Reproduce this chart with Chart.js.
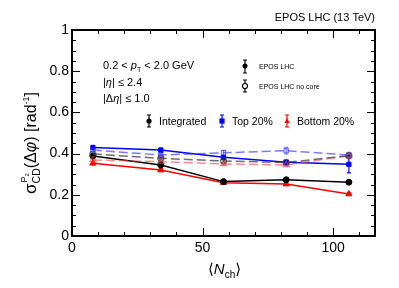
<!DOCTYPE html>
<html>
<head>
<meta charset="utf-8">
<script src="https://cdn.jsdelivr.net/npm/chart.js@4.4.1/dist/chart.umd.min.js"></script>
<style>
body { margin: 0; background: #fff; }
</style>
</head>
<body>
<canvas id="c" width="399" height="288"></canvas>
<script>
// <Nch> bins
var nch = [8, 34, 58, 82, 106];

// EPOS LHC
var intEpos = [0.388, 0.345, 0.264, 0.273, 0.261];
var topEpos = [0.430, 0.417, 0.382, 0.358, 0.348];
var botEpos = [0.353, 0.320, 0.259, 0.252, 0.204];
var intEposErr = [0.006, 0.006, 0.005, 0.005, 0.005];
var topEposErr = [0.007, 0.010, 0.008, 0.008, 0.042];
var botEposErr = [0.007, 0.007, 0.005, 0.006, 0.005];

// EPOS LHC no core
var intNoCore = [0.398, 0.377, 0.364, 0.357, 0.390];
var topNoCore = [0.417, 0.393, 0.404, 0.414, 0.393];
var botNoCore = [0.369, 0.361, 0.350, 0.345, 0.390];
var intNoCoreErr = [0.005, 0.005, 0.005, 0.005, 0.005];
var topNoCoreErr = [0.006, 0.006, 0.012, 0.016, 0.008];
var botNoCoreErr = [0.006, 0.006, 0.006, 0.006, 0.006];

var yTicks = [0, 0.2, 0.4, 0.6, 0.8, 1];
var xTicks = [0, 50, 100];

var FONT = '"Liberation Sans", Arial, "DejaVu Sans", sans-serif';

function pts(ys) {
  return nch.map(function (x, i) { return { x: x, y: ys[i] }; });
}

function ds(label, ys, errs, color, style, dashed) {
  return {
    label: label,
    data: pts(ys),
    errs: errs,
    borderColor: color,
    backgroundColor: color,
    borderWidth: 1.5,
    borderDash: dashed ? [9, 4] : [],
    pointStyle: style,
    pointRadius: style == 'triangle' ? 3.6 : 3,
    pointBorderWidth: dashed ? 1.2 : 1,
    pointBorderColor: color,
    pointBackgroundColor: dashed ? 'rgba(255,255,255,0)' : color,
    showLine: true,
    tension: 0
  };
}

var datasets = [
  ds('int no core', intNoCore, intNoCoreErr, 'rgba(60,60,60,0.75)', 'circle', true),
  ds('bot no core', botNoCore, botNoCoreErr, 'rgba(255,60,60,0.6)', 'triangle', true),
  ds('top no core', topNoCore, topNoCoreErr, 'rgba(50,50,255,0.65)', 'rect', true),
  ds('Integrated', intEpos, intEposErr, '#000', 'circle', false),
  ds('Bottom 20%', botEpos, botEposErr, '#ff0000', 'triangle', false),
  ds('Top 20%', topEpos, topEposErr, '#0000ff', 'rect', false)
];

function rich(ctx, x, y, parts) {
  var cx = x;
  parts.forEach(function (p) {
    ctx.font = (p.it ? 'italic ' : '') + p.s + 'px ' + FONT;
    ctx.fillText(p.t, cx, y + (p.dy || 0));
    cx += ctx.measureText(p.t).width;
  });
  return cx - x;
}
function richWidth(ctx, parts) {
  var w = 0;
  parts.forEach(function (p) {
    ctx.font = (p.it ? 'italic ' : '') + p.s + 'px ' + FONT;
    w += ctx.measureText(p.t).width;
  });
  return w;
}

function marker(ctx, x, y, style, color, open, r) {
  ctx.save();
  ctx.strokeStyle = color;
  ctx.fillStyle = color;
  ctx.lineWidth = 1.2;
  ctx.beginPath();
  if (style == 'circle') ctx.arc(x, y, r, 0, Math.PI * 2);
  else if (style == 'rect') ctx.rect(x - r, y - r, 2 * r, 2 * r);
  else { ctx.moveTo(x, y - r * 1.2); ctx.lineTo(x + r, y + r * 0.8); ctx.lineTo(x - r, y + r * 0.8); ctx.closePath(); }
  if (open) { ctx.fillStyle = '#fff'; ctx.fill(); ctx.stroke(); } else ctx.fill();
  ctx.restore();
}

function errBar(ctx, x, y1, y2, color) {
  ctx.save();
  ctx.strokeStyle = color;
  ctx.lineWidth = 1.2;
  ctx.beginPath();
  ctx.moveTo(x, y1); ctx.lineTo(x, y2);
  ctx.moveTo(x - 2, y1); ctx.lineTo(x + 2, y1);
  ctx.moveTo(x - 2, y2); ctx.lineTo(x + 2, y2);
  ctx.stroke();
  ctx.restore();
}

var deco = {
  id: 'deco',
  beforeDatasetsDraw: function (chart) {
    var ctx = chart.ctx, xs = chart.scales.x, ys = chart.scales.y;
    chart.data.datasets.forEach(function (d) {
      d.data.forEach(function (p, i) {
        var e = d.errs[i];
        if (!e) return;
        errBar(ctx, xs.getPixelForValue(p.x), ys.getPixelForValue(p.y - e), ys.getPixelForValue(p.y + e), d.borderColor);
      });
    });
  },
  afterDraw: function (chart) {
    var ctx = chart.ctx, a = chart.chartArea, xs = chart.scales.x, ys = chart.scales.y;
    ctx.save();
    // frame
    ctx.strokeStyle = '#000';
    ctx.lineWidth = 2;
    ctx.strokeRect(a.left, a.top, a.right - a.left, a.bottom - a.top);
    // ticks inside on all sides
    ctx.lineWidth = 1;
    ctx.beginPath();
    for (var i = 0; i <= 20; i++) {
      var py = Math.round(ys.getPixelForValue(i * 0.05)) + 0.5;
      var l = i % 4 == 0 ? 8 : 4;
      ctx.moveTo(a.left, py); ctx.lineTo(a.left + l, py);
      ctx.moveTo(a.right, py); ctx.lineTo(a.right - l, py);
    }
    for (var j = 0; j * 10 <= xs.max; j++) {
      var px = Math.round(xs.getPixelForValue(j * 10)) + 0.5;
      var lx = j % 5 == 0 ? 8 : 4;
      ctx.moveTo(px, a.bottom); ctx.lineTo(px, a.bottom - lx);
      ctx.moveTo(px, a.top); ctx.lineTo(px, a.top + lx);
    }
    ctx.stroke();

    ctx.fillStyle = '#000';
    ctx.textBaseline = 'alphabetic';
    // title
    ctx.font = '11px ' + FONT;
    ctx.textAlign = 'right';
    ctx.fillText('EPOS LHC (13 TeV)', a.right, 21);
    ctx.textAlign = 'left';

    // cuts
    rich(ctx, 103, 69, [{ t: '0.2 < ', s: 11 }, { t: 'p', s: 11, it: true }, { t: 'T', s: 7, dy: 3 }, { t: ' < 2.0 GeV', s: 11 }]);
    rich(ctx, 103, 86, [{ t: '|', s: 11 }, { t: 'η', s: 11, it: true }, { t: '| ≤ 2.4', s: 11 }]);
    rich(ctx, 103, 102, [{ t: '|Δ', s: 11 }, { t: 'η', s: 11, it: true }, { t: '| ≤ 1.0', s: 11 }]);

    // model legend
    errBar(ctx, 245, 60, 73, '#000');
    marker(ctx, 245, 66, 'circle', '#000', false, 2.5);
    errBar(ctx, 245, 80, 92, '#000');
    marker(ctx, 245, 86, 'circle', '#000', true, 2.5);
    ctx.font = '7px ' + FONT;
    ctx.fillText('EPOS LHC', 259, 69);
    ctx.fillText('EPOS LHC no core', 259, 89);

    // class legend
    var leg = [[149, 'Integrated', '#000', 'circle'], [222, 'Top 20%', '#0000ff', 'rect'], [287, 'Bottom 20%', '#ff0000', 'triangle']];
    leg.forEach(function (g) {
      errBar(ctx, g[0], 115, 127, g[2]);
      marker(ctx, g[0], 121, g[3], g[2], false, 2.6);
      ctx.fillStyle = '#000';
      ctx.font = '10.5px ' + FONT;
      ctx.fillText(g[1], g[0] + 10, 125);
    });

    // x title
    rich(ctx, 208, 274, [{ t: '⟨', s: 15 }, { t: 'N', s: 15, it: true }, { t: 'ch', s: 10, dy: 4 }, { t: '⟩', s: 15 }]);

    // y title (rotated, right-aligned to top)
    ctx.translate(36, 92);
    ctx.rotate(-Math.PI / 2);
    var tail = [{ t: 'CD', s: 10.5, dy: 3.5 }, { t: '(Δ', s: 16 }, { t: 'φ', s: 16, it: true },
      { t: ') [rad', s: 16 }, { t: '-1', s: 9, dy: -7 }, { t: ']', s: 16 }];
    ctx.font = '17px ' + FONT;
    var sw = ctx.measureText('σ').width;
    var w = sw + richWidth(ctx, tail);
    var sx = -w;
    ctx.font = '17px ' + FONT;
    ctx.fillText('σ', sx, 0);
    ctx.font = '9px ' + FONT;
    ctx.fillText('P', sx + sw + 1, -9);
    var pw = ctx.measureText('P').width;
    ctx.font = '6px ' + FONT;
    ctx.fillText('2', sx + sw + 1 + pw, -7);
    rich(ctx, sx + sw, 0, tail);
    ctx.restore();
  }
};

new Chart(document.getElementById('c'), {
  type: 'scatter',
  data: { datasets: datasets },
  options: {
    responsive: false,
    animation: false,
    layout: { padding: { top: 30, right: 24, left: 0, bottom: 0 } },
    plugins: { legend: { display: false }, tooltip: { enabled: false } },
    scales: {
      x: {
        type: 'linear', min: 0, max: 116,
        afterFit: function (s) { s.height = 52; },
        afterBuildTicks: function (s) { s.ticks = xTicks.map(function (v) { return { value: v }; }); },
        grid: { display: false, drawTicks: false },
        border: { display: false },
        ticks: { color: '#000', padding: 4, maxRotation: 0, font: { family: FONT, size: 14 } }
      },
      y: {
        type: 'linear', min: 0, max: 1,
        afterFit: function (s) { s.width = 72; },
        afterBuildTicks: function (s) { s.ticks = yTicks.map(function (v) { return { value: v }; }); },
        grid: { display: false, drawTicks: false },
        border: { display: false },
        ticks: {
          color: '#000', padding: 3, font: { family: FONT, size: 14 },
          callback: function (v) { return (v == 0 || v == 1) ? String(v) : v.toFixed(1); }
        }
      }
    }
  },
  plugins: [deco]
});
</script>
</body>
</html>
